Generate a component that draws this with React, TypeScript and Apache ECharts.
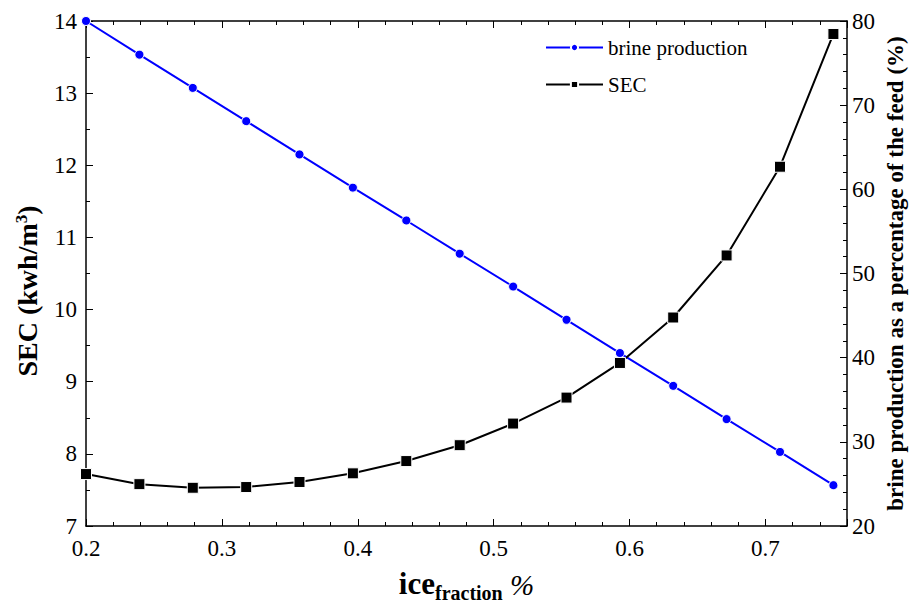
import React, { useEffect, useRef } from "react";
import * as echarts from "echarts";

const iceFraction = [0.2, 0.2393, 0.2786, 0.3179, 0.3571, 0.3964, 0.4357, 0.475, 0.5143, 0.5536, 0.5929, 0.6321, 0.6714, 0.7107, 0.75];
const brineProduction = [80, 76, 72.05, 68.1, 64.15, 60.2, 56.3, 52.35, 48.45, 44.5, 40.55, 36.65, 32.7, 28.8, 24.85];
const secValues = [7.72, 7.58, 7.53, 7.54, 7.61, 7.73, 7.9, 8.12, 8.42, 8.78, 9.26, 9.89, 10.75, 11.98, 13.82];
const xTickLabels = ["0.2", "0.3", "0.4", "0.5", "0.6", "0.7"];
const leftTickLabels = ["7", "8", "9", "10", "11", "12", "13", "14"];
const rightTickLabels = ["20", "30", "40", "50", "60", "70", "80"];

const FONT = "Liberation Serif";

export default function App() {
  const ref = useRef<HTMLDivElement>(null);
  useEffect(() => {
    if (!ref.current) return;
    const chart = echarts.init(ref.current, null, { renderer: "svg" });
    const axisLine = { show: true, lineStyle: { color: "#000", width: 1.5 } };
    const majorX = {
      type: "value", min: 0.2, max: 0.76, interval: 0.1,
      axisLine, splitLine: { show: false },
    };
    const minorX = {
      type: "value", min: 0.2, max: 0.76, interval: 0.02,
      axisLine: { show: false }, splitLine: { show: false },
      axisLabel: { show: false },
      axisTick: { show: true, inside: true, length: 4, lineStyle: { color: "#000", width: 1 } },
    };
    const option: any = {
      animation: false,
      backgroundColor: "#fff",
      textStyle: { fontFamily: FONT, fontSize: 22, color: "#000" },
      grid: { left: 86, right: 62, top: 21, bottom: 80, outerBoundsMode: "none", containLabel: false },
      legend: {
        orient: "vertical", left: 545, top: 37, padding: 0, itemWidth: 57, itemHeight: 9, itemGap: 16,
        textStyle: { fontFamily: FONT, fontSize: 21, color: "#000" },
        data: ["brine production", "SEC"],
      },
      xAxis: [
        {
          ...majorX, position: "bottom",
          axisTick: { show: true, inside: true, length: 7, lineStyle: { color: "#000", width: 1 } },
          axisLabel: { show: false },
          name: "{a|ice}{b|fraction}{c| %}",
          nameLocation: "middle", nameGap: 46,
          nameTextStyle: {
            fontFamily: FONT,
            rich: {
              a: { fontFamily: FONT, fontSize: 31, lineHeight: 31, fontWeight: "bold", color: "#000", verticalAlign: "bottom", padding: [0, 0, 4, 0] },
              b: { fontFamily: FONT, fontSize: 20, lineHeight: 20, fontWeight: "bold", color: "#000", verticalAlign: "bottom" },
              c: { fontFamily: FONT, fontSize: 29, lineHeight: 29, fontStyle: "italic", color: "#000", verticalAlign: "bottom", padding: [0, 0, 4, 0] },
            },
          },
        },
        { ...minorX, position: "bottom" },
        {
          ...majorX, position: "top",
          axisTick: { show: true, inside: true, length: 7, lineStyle: { color: "#000", width: 1 } },
          axisLabel: { show: false },
        },
        { ...minorX, position: "top" },
      ],
      yAxis: [
        {
          type: "value", min: 7, max: 14, interval: 1, position: "left",
          axisLine, splitLine: { show: false },
          axisTick: { show: true, inside: true, length: 7, lineStyle: { color: "#000", width: 1 } },
          minorTick: { show: true, splitNumber: 2, length: 4, lineStyle: { color: "#000", width: 1 } },
          minorSplitLine: { show: false },
          axisLabel: { show: false },
        },
        {
          type: "value", min: 20, max: 80, interval: 10, position: "right",
          axisLine, splitLine: { show: false },
          axisTick: { show: true, inside: true, length: 7, lineStyle: { color: "#000", width: 1 } },
          minorTick: { show: true, splitNumber: 5, length: 4, lineStyle: { color: "#000", width: 1 } },
          minorSplitLine: { show: false },
          axisLabel: { show: false },
          name: "brine production as a percentage of the feed (%)",
          nameLocation: "middle", nameRotate: 90, nameGap: 37,
          nameTextStyle: { fontFamily: FONT, fontSize: 23, fontWeight: "bold", color: "#000" },
        },
      ],
      series: [
        {
          name: "brine production", type: "line", xAxisIndex: 0, yAxisIndex: 1,
          data: iceFraction.map((x, i) => [x, brineProduction[i]]),
          symbol: "circle", symbolSize: 9,
          lineStyle: { color: "#0000ff", width: 2 },
          itemStyle: { color: "#0000ff", borderColor: "#fff", borderWidth: 1 },
        },
        {
          name: "SEC", type: "line", xAxisIndex: 0, yAxisIndex: 0,
          data: iceFraction.map((x, i) => [x, secValues[i]]),
          symbol: "rect", symbolSize: 11,
          lineStyle: { color: "#000", width: 2 },
          itemStyle: { color: "#000", borderColor: "#fff", borderWidth: 1 },
        },
      ],
    };
    chart.setOption(option);

    const bottomY = chart.convertToPixel({ yAxisIndex: 0 }, 7) as number;
    const leftX = chart.convertToPixel({ xAxisIndex: 0 }, 0.2) as number;
    const rightX = chart.convertToPixel({ xAxisIndex: 0 }, 0.76) as number;
    const font = { fontFamily: FONT, fontSize: 23, fill: "#000" };
    const graphics: any[] = [];
    xTickLabels.forEach((s) => {
      graphics.push({
        type: "text", x: chart.convertToPixel({ xAxisIndex: 0 }, parseFloat(s)), y: bottomY + 11,
        style: { ...font, text: s, align: "center", verticalAlign: "top" }, silent: true,
      });
    });
    leftTickLabels.forEach((s) => {
      graphics.push({
        type: "text", x: leftX - 9, y: chart.convertToPixel({ yAxisIndex: 0 }, parseFloat(s)),
        style: { ...font, text: s, align: "right", verticalAlign: "middle" }, silent: true,
      });
    });
    rightTickLabels.forEach((s) => {
      graphics.push({
        type: "text", x: rightX + 5, y: chart.convertToPixel({ yAxisIndex: 1 }, parseFloat(s)),
        style: { ...font, text: s, align: "left", verticalAlign: "middle" }, silent: true,
      });
    });
    graphics.push({
      type: "text", x: 27, y: 291, rotation: Math.PI / 2, silent: true,
      style: {
        text: "SEC (kwh/m{s|3})", align: "center", verticalAlign: "middle",
        fontFamily: FONT, fontSize: 28, fontWeight: "bold", fill: "#000",
        rich: { s: { fontFamily: FONT, fontSize: 17, fontWeight: "bold", fill: "#000", verticalAlign: "top" } },
      },
    });
    chart.setOption({ graphic: graphics });
    return () => chart.dispose();
  }, []);
  return (
    <div
      ref={ref}
      style={{ position: "fixed", left: 0, top: 0, width: 909, height: 606, background: "#fff" }}
    />
  );
}
